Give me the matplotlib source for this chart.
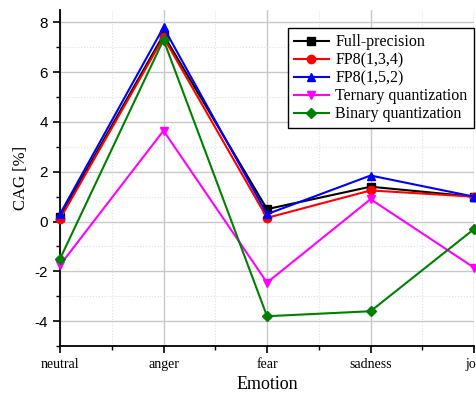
import matplotlib
matplotlib.use("Agg")
import matplotlib.pyplot as plt
from matplotlib.ticker import MultipleLocator

plt.rcParams["axes.unicode_minus"] = False

categories = ["neutral", "anger", "fear", "sadness", "joy"]
full_precision = [0.2, 7.5, 0.5, 1.4, 1.0]
fp8_134 = [0.1, 7.4, 0.15, 1.25, 1.0]
fp8_152 = [0.3, 7.8, 0.3, 1.85, 1.0]
ternary = [-1.75, 3.65, -2.45, 0.9, -1.85]
binary = [-1.5, 7.3, -3.8, -3.6, -0.3]

series = [
    ("Full-precision", full_precision, "black", "s"),
    ("FP8(1,3,4)", fp8_134, "red", "o"),
    ("FP8(1,5,2)", fp8_152, "blue", "^"),
    ("Ternary quantization", ternary, "magenta", "v"),
    ("Binary quantization", binary, "green", "D"),
]

fig = plt.figure(figsize=(4.76, 3.96), dpi=100)
ax = fig.add_axes([0.126, 0.126, 0.870, 0.849])
x = list(range(len(categories)))
for name, vals, c, m in series:
    ax.plot(x, vals, color=c, marker=m, markersize=6 if m != "D" else 5,
            linewidth=1.5, label=name, clip_on=False, zorder=3)

ax.set_xlim(0, 4)
ax.set_ylim(-5, 8.5)
ax.set_xticks(x)
ax.set_xticklabels(categories, fontfamily="Liberation Serif", fontsize=10)
ax.xaxis.set_minor_locator(MultipleLocator(0.5))
ax.set_yticks([-4, -2, 0, 2, 4, 6, 8])
ax.yaxis.set_minor_locator(MultipleLocator(1))
for lbl in ax.get_yticklabels():
    lbl.set_fontfamily("Liberation Sans")
    lbl.set_fontsize(11)
ax.grid(True, which="major", color="#c8c8c8", linewidth=1.0, linestyle="-")
ax.grid(True, which="minor", color="#e0e0e0", linewidth=0.8, linestyle=":")
ax.set_axisbelow(True)
ax.tick_params(which="major", direction="out", length=5, width=1.2)
ax.tick_params(which="minor", direction="out", length=3, width=1.0)
ax.spines["top"].set_visible(False)
ax.spines["right"].set_visible(False)
ax.spines["left"].set_linewidth(1.3)
ax.spines["bottom"].set_linewidth(1.3)
ax.set_xlabel("Emotion", fontfamily="Liberation Serif", fontsize=13, labelpad=4)
ax.set_ylabel("CAG [%]", fontfamily="Liberation Serif", fontsize=12, labelpad=4)

leg = ax.legend(loc="upper right", bbox_to_anchor=(1.0, 0.946),
                prop={"family": "Liberation Serif", "size": 11.5},
                fancybox=False, edgecolor="black", framealpha=1,
                handlelength=2.2, borderpad=0.4, labelspacing=0.12,
                handletextpad=0.4, borderaxespad=0.0)
leg.get_frame().set_linewidth(1.0)

fig.savefig("out.png", dpi=100)
